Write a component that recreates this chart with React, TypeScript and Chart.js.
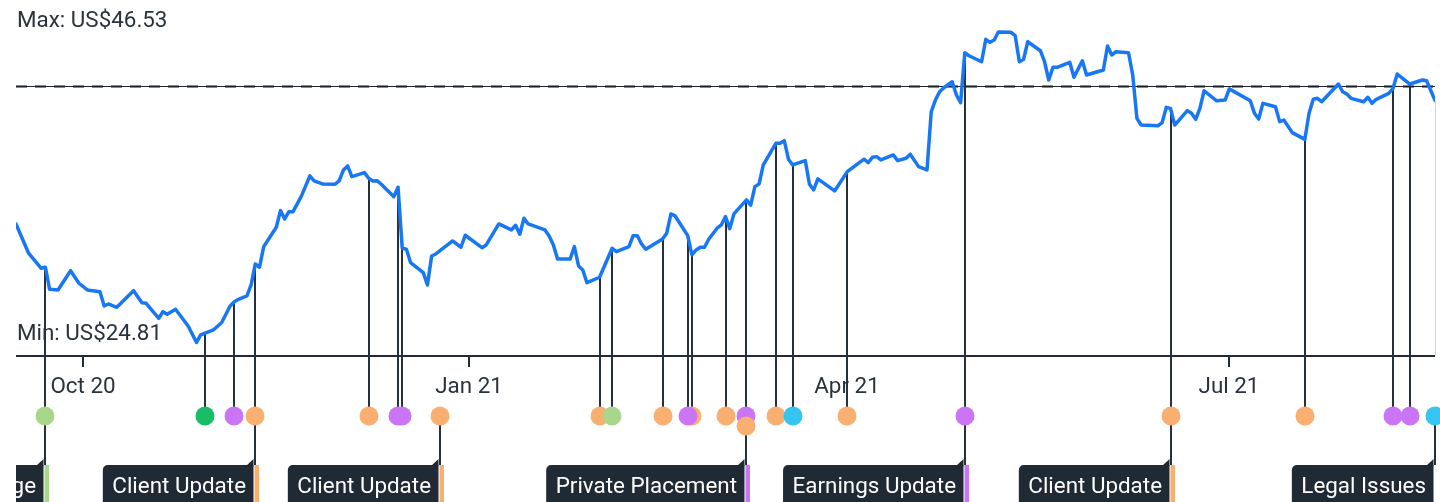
import React, { useEffect, useRef } from "react";
import { Chart, registerables } from "chart.js";

Chart.register(...registerables);

// ---------- data ----------
const PRICE_DATES = [
  "2020-09-15", "2020-09-18", "2020-09-21", "2020-09-22", "2020-09-23", "2020-09-25", "2020-09-28", "2020-09-30",
  "2020-10-02", "2020-10-05", "2020-10-06", "2020-10-07", "2020-10-09", "2020-10-13", "2020-10-15", "2020-10-16",
  "2020-10-19", "2020-10-20", "2020-10-21", "2020-10-23", "2020-10-26", "2020-10-28", "2020-10-29",
  "2020-11-01", "2020-11-03", "2020-11-05", "2020-11-06", "2020-11-07", "2020-11-09", "2020-11-10", "2020-11-11",
  "2020-11-12", "2020-11-13", "2020-11-16", "2020-11-17", "2020-11-18", "2020-11-19", "2020-11-20", "2020-11-22",
  "2020-11-24", "2020-11-25", "2020-11-27", "2020-11-30",
  "2020-12-01", "2020-12-02", "2020-12-03", "2020-12-04", "2020-12-07", "2020-12-08", "2020-12-09", "2020-12-10",
  "2020-12-11", "2020-12-14", "2020-12-15", "2020-12-16", "2020-12-17", "2020-12-18", "2020-12-21", "2020-12-22",
  "2020-12-23", "2020-12-24", "2020-12-28", "2020-12-30", "2020-12-31",
  "2021-01-04", "2021-01-05", "2021-01-08", "2021-01-11", "2021-01-12", "2021-01-13", "2021-01-14", "2021-01-15",
  "2021-01-19", "2021-01-20", "2021-01-21", "2021-01-22", "2021-01-25", "2021-01-26", "2021-01-27", "2021-01-28",
  "2021-01-29",
  "2021-02-01", "2021-02-04", "2021-02-05", "2021-02-08", "2021-02-09", "2021-02-10", "2021-02-11", "2021-02-12",
  "2021-02-16", "2021-02-17", "2021-02-18", "2021-02-19", "2021-02-22", "2021-02-23", "2021-02-24", "2021-02-25",
  "2021-02-26", "2021-02-27",
  "2021-03-01", "2021-03-02", "2021-03-03", "2021-03-04", "2021-03-05", "2021-03-08", "2021-03-09", "2021-03-10",
  "2021-03-11", "2021-03-12", "2021-03-15", "2021-03-16", "2021-03-17", "2021-03-18", "2021-03-19", "2021-03-22",
  "2021-03-23", "2021-03-24", "2021-03-25", "2021-03-29",
  "2021-04-01", "2021-04-05", "2021-04-06", "2021-04-07", "2021-04-08", "2021-04-09", "2021-04-12", "2021-04-13",
  "2021-04-15", "2021-04-16", "2021-04-18", "2021-04-20", "2021-04-21", "2021-04-22", "2021-04-23", "2021-04-24",
  "2021-04-26", "2021-04-27", "2021-04-28", "2021-04-29", "2021-04-30",
  "2021-05-03", "2021-05-04", "2021-05-05", "2021-05-06", "2021-05-07", "2021-05-10", "2021-05-11", "2021-05-12",
  "2021-05-13", "2021-05-14", "2021-05-17", "2021-05-18", "2021-05-19", "2021-05-20", "2021-05-21", "2021-05-24",
  "2021-05-25", "2021-05-27", "2021-05-28",
  "2021-06-01", "2021-06-02", "2021-06-03", "2021-06-04", "2021-06-07", "2021-06-08", "2021-06-09", "2021-06-10",
  "2021-06-14", "2021-06-15", "2021-06-16", "2021-06-17", "2021-06-18", "2021-06-21", "2021-06-22", "2021-06-23",
  "2021-06-24", "2021-06-25", "2021-06-28", "2021-06-30",
  "2021-07-01", "2021-07-06", "2021-07-07", "2021-07-08", "2021-07-09", "2021-07-12", "2021-07-13", "2021-07-14",
  "2021-07-16", "2021-07-19", "2021-07-20", "2021-07-21", "2021-07-22", "2021-07-23", "2021-07-27", "2021-07-28",
  "2021-07-29", "2021-07-30",
  "2021-08-02", "2021-08-03", "2021-08-04", "2021-08-05", "2021-08-06", "2021-08-08", "2021-08-09", "2021-08-10",
  "2021-08-13", "2021-08-16", "2021-08-17", "2021-08-19",
];

const PRICE_VALUES = [
  33.1, 31.05, 30.0, 30.07, 28.53, 28.48, 29.83, 28.95,
  28.48, 28.36, 27.36, 27.5, 27.27, 28.43, 27.59, 27.55,
  26.5, 26.96, 26.78, 27.13, 25.96, 24.81, 25.34,
  25.68, 26.2, 27.36, 27.66, 27.83, 28.06, 28.83, 30.3,
  30.07, 31.51, 32.87, 34.03, 33.45, 33.96, 33.96, 35.06,
  36.46, 36.11, 35.9, 35.88,
  36.13, 36.88, 37.16, 36.41, 36.69, 36.3, 36.11, 36.13,
  35.88, 35.01, 35.67, 31.4, 31.33, 30.39, 29.69, 28.83,
  30.86, 31.0, 31.91, 31.47, 32.31,
  31.44, 31.63, 33.1, 32.68, 33.01, 32.38, 33.5, 33.1,
  32.68, 32.26, 31.63, 30.65, 30.65, 31.51, 30.16, 29.88,
  28.99,
  29.37, 31.4, 31.16, 31.51, 32.28, 32.28, 31.7, 31.33,
  32.05, 32.45, 33.8, 33.66, 32.28, 30.93, 31.28, 31.47,
  31.47, 32.03,
  32.8, 33.03, 33.61, 32.77, 33.8, 34.78, 34.41, 35.71,
  35.9, 37.23, 38.74, 38.74, 38.93, 37.63, 37.23, 37.53,
  35.88, 35.48, 36.25, 35.41,
  36.76, 37.63, 37.39, 37.77, 37.81, 37.58, 37.93, 37.53,
  37.7, 37.98, 37.11, 36.88, 40.95, 41.77, 42.35, 42.63,
  43.05, 42.12, 41.58, 45.08, 44.87,
  44.45, 46.02, 45.81, 45.97, 46.53, 46.51, 46.27, 44.45,
  44.62, 45.85, 45.22, 44.45, 43.17, 44.06, 44.06, 44.41,
  43.36, 44.52, 43.52,
  43.87, 45.55, 44.92, 45.15, 45.08, 43.52, 40.49, 40.02,
  39.97, 40.19, 41.26, 41.19, 40.02, 41.03, 40.84, 40.42,
  41.19, 42.42, 41.72, 41.77,
  42.55, 41.72, 40.84, 40.44, 41.54, 41.3, 40.26, 40.37,
  39.49, 39.02, 40.84, 41.82, 41.89, 41.65, 42.89, 42.35,
  42.19, 41.89,
  41.65, 41.96, 41.54, 41.82, 41.96, 42.24, 42.59, 43.59,
  42.89, 43.17, 43.12, 41.75,
];

const MAX_LABEL = "Max: US$46.53";
const MIN_LABEL = "Min: US$24.81";
const REFERENCE_PRICE = 42.75;
const Y_MIN = 24.0;
const Y_MAX = 48.77;

const TICK_DATES = ["2020-10-01", "2021-01-01", "2021-04-01", "2021-07-01"];
const TICK_LABELS = ["Oct 20", "Jan 21", "Apr 21", "Jul 21"];

const EVENT_DATES = [
  "2020-09-22", "2020-10-30", "2020-11-06", "2020-11-11", "2020-12-08", "2020-12-15", "2020-12-16", "2020-12-25",
  "2021-02-01", "2021-02-04", "2021-02-16", "2021-02-23", "2021-02-22", "2021-03-03", "2021-03-08", "2021-03-08",
  "2021-03-15", "2021-03-19", "2021-04-01", "2021-04-29", "2021-06-17", "2021-07-19", "2021-08-09", "2021-08-13",
  "2021-08-19",
];
const EVENT_KINDS = [
  "management", "capital", "financial", "business", "business", "financial", "financial", "business",
  "business", "management", "business", "business", "financial", "business", "financial", "business",
  "business", "legal", "business", "financial", "business", "business", "financial", "financial",
  "legal",
];
const EVENT_LABELS = [
  "Executive Change", "", "", "Client Update", "", "", "", "Client Update",
  "", "", "", "", "", "", "Private Placement", "",
  "", "", "", "Earnings Update", "Client Update", "", "", "",
  "Legal Issues",
];
const EVENT_HAS_STEM = [
  true, true, true, true, true, true, true, false,
  true, true, true, true, true, true, true, false,
  true, true, true, true, true, true, true, true,
  false,
];
const EVENT_STACK = [
  0, 0, 0, 0, 0, 0, 0, 0,
  0, 0, 0, 0, 0, 0, 0, 1,
  0, 0, 0, 0, 0, 0, 0, 0,
  0,
];

// ---------- styles ----------
const KIND_COLORS: Record<string, string> = {
  management: "#aad68c",
  capital: "#18bd66",
  financial: "#c975f6",
  business: "#f9af70",
  legal: "#36c4f0",
};
const LINE_COLOR = "#1877f2";
const TEXT_COLOR = "#2a333d";
const DARK = "#222c36";
const BOX_COLOR = "#1f2a35";
const FONT = "Roboto, 'Noto Sans', sans-serif";
const FONT_SIZE = 22.4;

const CIRCLE_Y = 416;
const CIRCLE_R = 9.5;
const STACK_GAP = 10;
const BOX_TOP = 465;
const BOX_H = 46;

const dayNum = (s: string) => {
  const [y, m, d] = s.split("-").map(Number);
  return Date.UTC(y, m - 1, d) / 86400000;
};

const PRICE_DAYS = PRICE_DATES.map(dayNum);

function priceAt(day: number): number {
  if (day <= PRICE_DAYS[0]) return PRICE_VALUES[0];
  for (let i = 1; i < PRICE_DAYS.length; i++) {
    if (day <= PRICE_DAYS[i]) {
      const t = (day - PRICE_DAYS[i - 1]) / (PRICE_DAYS[i] - PRICE_DAYS[i - 1]);
      return PRICE_VALUES[i - 1] + t * (PRICE_VALUES[i] - PRICE_VALUES[i - 1]);
    }
  }
  return PRICE_VALUES[PRICE_VALUES.length - 1];
}

const overlayPlugin = {
  id: "overlay",
  beforeDatasetsDraw(chart: any) {
    const { ctx, chartArea: a, scales } = chart;
    const xs = scales.x;
    const ys = scales.y;
    ctx.save();

    // reference line
    const ry = Math.round(ys.getPixelForValue(REFERENCE_PRICE));
    ctx.lineWidth = 3;
    ctx.strokeStyle = "#7c8896";
    ctx.setLineDash([11, 8]);
    ctx.beginPath();
    ctx.moveTo(a.left, ry + 0.5);
    ctx.lineTo(a.right, ry + 0.5);
    ctx.stroke();
    ctx.setLineDash([]);
    ctx.lineWidth = 1;
    ctx.strokeStyle = "#1c232b";
    ctx.beginPath();
    ctx.moveTo(a.left, ry + 0.5);
    ctx.lineTo(a.right, ry + 0.5);
    ctx.stroke();

    // max/min labels
    ctx.font = `${FONT_SIZE}px ${FONT}`;
    ctx.fillStyle = TEXT_COLOR;
    ctx.textAlign = "left";
    ctx.textBaseline = "alphabetic";
    ctx.fillText(MAX_LABEL, a.left + 1, 27);
    ctx.fillText(MIN_LABEL, a.left + 1, 340);

    // latest marker
    const lastDay = PRICE_DAYS[PRICE_DAYS.length - 1];
    const lx = Math.round(xs.getPixelForValue(lastDay)) + 0.5;
    ctx.strokeStyle = "#cfd5db";
    ctx.lineWidth = 1;
    ctx.beginPath();
    ctx.moveTo(lx, ys.getPixelForValue(priceAt(lastDay)));
    ctx.lineTo(lx, a.bottom + 2);
    ctx.stroke();

    // axis
    const axisY = a.bottom + 2;
    ctx.strokeStyle = DARK;
    ctx.lineWidth = 2;
    ctx.beginPath();
    ctx.moveTo(a.left, axisY);
    ctx.lineTo(a.right, axisY);
    ctx.stroke();
    TICK_DATES.forEach((d, i) => {
      const tx = Math.round(xs.getPixelForValue(dayNum(d)));
      ctx.beginPath();
      ctx.moveTo(tx, axisY);
      ctx.lineTo(tx, axisY + 11);
      ctx.stroke();
      ctx.fillStyle = TEXT_COLOR;
      ctx.textAlign = "center";
      ctx.fillText(TICK_LABELS[i], tx, 393);
    });

    // stems
    ctx.strokeStyle = "#27313b";
    ctx.lineWidth = 2;
    EVENT_DATES.forEach((d, i) => {
      const day = dayNum(d);
      const ex = Math.round(xs.getPixelForValue(day));
      const cy = CIRCLE_Y + EVENT_STACK[i] * STACK_GAP;
      if (EVENT_HAS_STEM[i]) {
        const py = ys.getPixelForValue(priceAt(day));
        ctx.beginPath();
        ctx.moveTo(ex, py);
        ctx.lineTo(ex, cy);
        ctx.stroke();
      }
      if (EVENT_LABELS[i]) {
        ctx.beginPath();
        ctx.moveTo(ex, cy);
        ctx.lineTo(ex, BOX_TOP);
        ctx.stroke();
      }
    });
    ctx.restore();
  },
  afterDraw(chart: any) {
    const { ctx, chartArea: a, scales } = chart;
    const xs = scales.x;
    ctx.save();
    // label boxes (clipped to plot width)
    ctx.save();
    ctx.beginPath();
    ctx.rect(a.left, 0, a.right - a.left - 1, chart.height);
    ctx.clip();
    ctx.font = `${FONT_SIZE}px ${FONT}`;
    ctx.textBaseline = "alphabetic";
    ctx.textAlign = "left";
    EVENT_DATES.forEach((d, i) => {
      const label = EVENT_LABELS[i];
      if (!label) return;
      const ex = Math.round(xs.getPixelForValue(dayNum(d)));
      const w = ctx.measureText(label).width + 17;
      const right = ex - 1.5;
      const left = right - w;
      ctx.fillStyle = BOX_COLOR;
      ctx.beginPath();
      (ctx as any).roundRect(left, BOX_TOP, w, BOX_H, [5, 0, 0, 5]);
      ctx.fill();
      ctx.beginPath();
      ctx.moveTo(right - 7, BOX_TOP + 0.5);
      ctx.lineTo(right, BOX_TOP - 6);
      ctx.lineTo(right, BOX_TOP + 1);
      ctx.closePath();
      ctx.fill();
      ctx.fillStyle = KIND_COLORS[EVENT_KINDS[i]];
      ctx.fillRect(ex - 0.5, BOX_TOP, 4.5, BOX_H);
      ctx.fillStyle = "#ffffff";
      ctx.fillText(label, left + 9.5, 492.5);
    });
    ctx.restore();

    // circles
    EVENT_DATES.forEach((d, i) => {
      const ex = Math.round(xs.getPixelForValue(dayNum(d)));
      const cy = CIRCLE_Y + EVENT_STACK[i] * STACK_GAP;
      ctx.fillStyle = KIND_COLORS[EVENT_KINDS[i]];
      ctx.beginPath();
      ctx.arc(ex, cy, CIRCLE_R, 0, Math.PI * 2);
      ctx.fill();
    });
    ctx.restore();
  },
};

export default function App() {
  const canvasRef = useRef<HTMLCanvasElement>(null);

  useEffect(() => {
    const canvas = canvasRef.current;
    if (!canvas) return;
    const chart = new Chart(canvas, {
      type: "line",
      data: {
        datasets: [
          {
            data: PRICE_DATES.map((d, i) => ({ x: dayNum(d), y: PRICE_VALUES[i] })),
            borderColor: LINE_COLOR,
            borderWidth: 3.5,
            pointRadius: 0,
            tension: 0,
            fill: false,
            borderJoinStyle: "round",
            borderCapStyle: "round",
          },
        ],
      },
      options: {
        animation: false,
        responsive: false,
        maintainAspectRatio: false,
        events: [],
        layout: { padding: { left: 16, right: 5, top: 0, bottom: 148 } },
        scales: {
          x: {
            type: "linear",
            display: false,
            bounds: "data",
            min: PRICE_DAYS[0],
            max: PRICE_DAYS[PRICE_DAYS.length - 1],
          },
          y: { type: "linear", display: false, bounds: "data", min: Y_MIN, max: Y_MAX },
        },
        plugins: { legend: { display: false }, tooltip: { enabled: false } },
      },
      plugins: [overlayPlugin],
    } as any);
    return () => chart.destroy();
  }, []);

  return (
    <div style={{ position: "fixed", left: 0, top: 0, width: 1440, height: 502, background: "#ffffff" }}>
      <canvas ref={canvasRef} width={1440} height={502} style={{ display: "block", width: 1440, height: 502 }} />
    </div>
  );
}
